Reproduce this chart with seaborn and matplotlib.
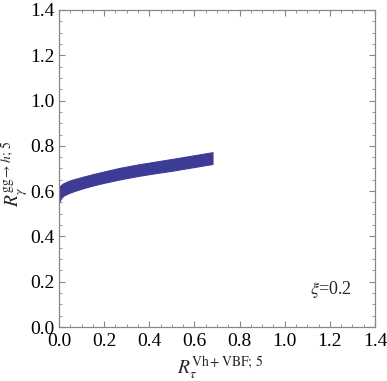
import matplotlib
matplotlib.use("Agg")
import matplotlib.pyplot as plt
import seaborn as sns
import numpy as np
import pandas as pd
from matplotlib.ticker import MultipleLocator

# data
band_x = [0.0, 0.005, 0.01, 0.02, 0.035, 0.05, 0.075, 0.10, 0.15, 0.20, 0.275,
          0.35, 0.425, 0.50, 0.59, 0.68]
band_lower = [0.548, 0.562, 0.570, 0.580, 0.588, 0.594, 0.603, 0.611, 0.625, 0.637,
              0.653, 0.667, 0.679, 0.690, 0.705, 0.720]
band_upper = [0.618, 0.623, 0.628, 0.635, 0.642, 0.648, 0.655, 0.662, 0.675, 0.687,
              0.704, 0.718, 0.730, 0.742, 0.757, 0.772]
end_x = [0.68, 0.68]
end_y = [0.720, 0.772]
ticks = [0.0, 0.2, 0.4, 0.6, 0.8, 1.0, 1.2, 1.4]
tick_labels = ["0.0", "0.2", "0.4", "0.6", "0.8", "1.0", "1.2", "1.4"]

sns.set_style("ticks")
plt.rcParams["font.family"] = ["Liberation Serif", "DejaVu Serif"]
plt.rcParams["mathtext.fontset"] = "stix"

fig = plt.figure(figsize=(3.87, 3.81), dpi=100)
ax = fig.add_axes([0.1525, 0.1417, 0.969 - 0.1525, 0.9738 - 0.1417])

blue = "#3c3c96"
df = pd.DataFrame({"x": band_x, "lo": band_lower, "hi": band_upper})
ax.fill_between(df["x"], df["lo"], df["hi"], color=blue, linewidth=0.8, edgecolor=blue)
sns.lineplot(x=end_x, y=end_y, ax=ax, color="red", linewidth=2.2, solid_capstyle="butt")

ax.set_xlim(0, 1.4)
ax.set_ylim(0, 1.4)
ax.set_xticks(ticks)
ax.set_yticks(ticks)
ax.set_xticklabels(tick_labels)
ax.set_yticklabels(tick_labels)
ax.xaxis.set_minor_locator(MultipleLocator(0.05))
ax.yaxis.set_minor_locator(MultipleLocator(0.05))
ax.tick_params(which="both", direction="in", top=True, right=True, color="#888888")
ax.tick_params(which="major", length=4, width=0.8, labelsize=14, colors="#888888",
               labelcolor="black")
ax.tick_params(axis="x", which="major", pad=4)
ax.tick_params(axis="y", which="major", pad=3)
ax.tick_params(which="minor", length=2.2, width=0.6)
for s in ax.spines.values():
    s.set_visible(True)
    s.set_color("#888888")
    s.set_linewidth(0.9)

ax.set_xlabel(r"$R_{\tau}^{\mathrm{Vh+VBF;\,5}}$", fontsize=14)
ax.set_ylabel(r"$R_{\gamma}^{\mathrm{gg}\rightarrow h;\,5}$", fontsize=14)
ax.xaxis.set_label_coords(0.51, -0.085)
ax.yaxis.set_label_coords(-0.092, 0.483)
ax.text(1.11, 0.165, r"$\xi$=0.2", fontsize=13, ha="left", va="center")

fig.savefig("out.png", dpi=100)
